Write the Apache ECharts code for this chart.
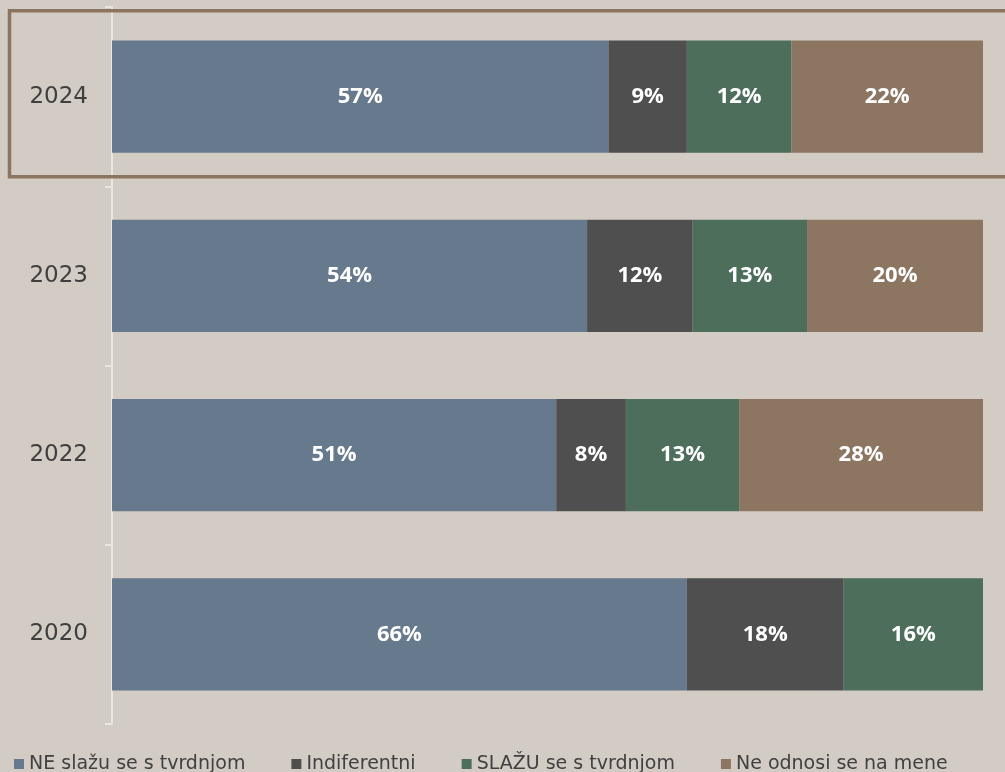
<!DOCTYPE html>
<html><head><meta charset="utf-8">
<script src="https://cdn.jsdelivr.net/npm/echarts@6/dist/echarts.min.js"></script>
<style>html,body{margin:0;padding:0;background:#d3ccc5;}#c{width:1005px;height:772px;}</style>
</head><body><div id="c"></div>
<script>
const categories = ['2024', '2023', '2022', '2020'];
const seriesNames = ['NE slažu se s tvrdnjom', 'Indiferentni', 'SLAŽU se s tvrdnjom', 'Ne odnosi se na mene'];
const neSlazu = [57, 54, 51, 66];
const indiferentni = [9, 12, 8, 18];
const slazu = [12, 13, 13, 16];
const neOdnosi = [22, 20, 28, 0];
const colors = ['#67798d', '#4f4f4f', '#4d6e5b', '#8c7662'];

const raw = [neSlazu, indiferentni, slazu, neOdnosi];
const totals = categories.map((c, i) => raw.reduce((s, a) => s + a[i], 0));

const chart = echarts.init(document.getElementById('c'), null, {renderer: 'canvas'});
const series = raw.map((arr, k) => ({
  name: seriesNames[k],
  type: 'bar',
  stack: 'total',
  barWidth: '62.5%',
  itemStyle: {color: colors[k]},
  label: {
    show: true, position: 'inside', color: '#ffffff', fontWeight: 'bold',
    fontFamily: 'Open Sans', fontSize: 22, padding: [4, 0, 0, 0],
    formatter: p => p.data.raw > 0 ? p.data.raw + '%' : ''
  },
  data: arr.map((v, i) => ({value: v / totals[i] * 100, raw: v}))
}));

chart.setOption({
  backgroundColor: '#d3ccc5',
  animation: false,
  grid: {left: 112, right: 22, top: 7, bottom: 48},
  xAxis: {type: 'value', min: 0, max: 100, show: false},
  yAxis: {
    type: 'category', data: categories, inverse: true,
    axisLine: {show: true, lineStyle: {color: '#e9e5e1', width: 2}},
    axisTick: {show: true, length: 7, lineStyle: {color: '#e9e5e1', width: 2}},
    axisLabel: {color: '#3f3f3f', fontSize: 23, fontFamily: 'DejaVu Sans', margin: 24, padding: [3, 0, 0, 0]}
  },
  legend: {
    top: 748, left: 9, itemWidth: 10, itemHeight: 10, itemGap: 46,
    icon: 'rect',
    textStyle: {color: '#404040', fontSize: 19, lineHeight: 22, fontFamily: 'DejaVu Sans'},
    data: seriesNames
  },
  series: series
});

const yc = chart.convertToPixel({yAxisIndex: 0}, categories[0]);
chart.setOption({
  graphic: [{
    type: 'rect', z: 100,
    shape: {x: 9.5, y: yc - 86, width: 1010, height: 166},
    style: {fill: 'none', stroke: '#8b7561', lineWidth: 3.5}
  }]
});
</script></body></html>
